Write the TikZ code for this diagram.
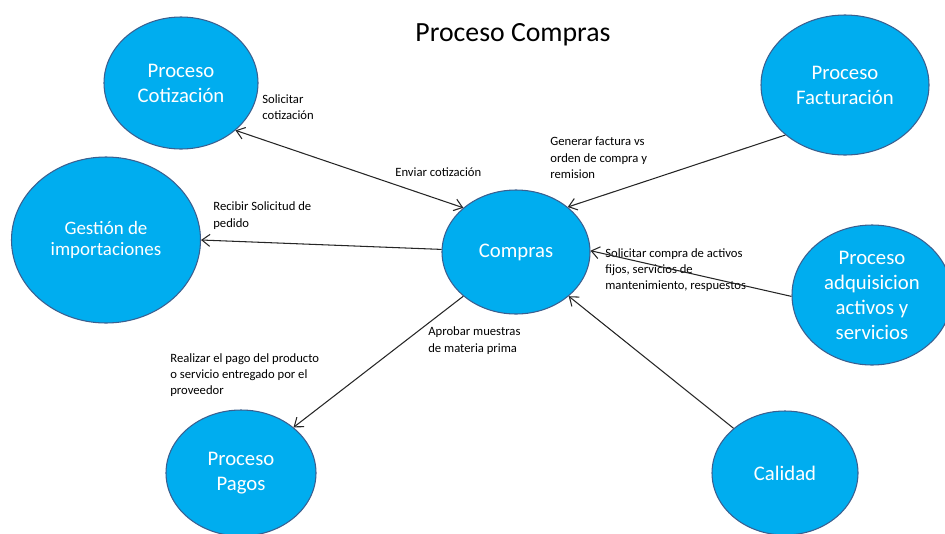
\documentclass[tikz,border=0pt]{standalone}
\usepackage{fontspec}
\setmainfont{Carlito}
\usetikzlibrary{shapes.geometric,arrows.meta}
\definecolor{azulproc}{HTML}{00ADEF}
\definecolor{bordeproc}{HTML}{3B5F8F}
\tikzset{
  proceso/.style={ellipse, draw=bordeproc, line width=0.6pt, fill=azulproc,
    text=white, align=center, inner sep=0pt, font=\fontsize{11.8}{14.2}\selectfont},
  etiqueta/.style={anchor=west, align=left, inner sep=0pt, font=\fontsize{7.2}{9.3}\selectfont},
  flecha/.style={draw=black!85, line width=0.6pt}
}
\begin{document}
\begin{tikzpicture}[x=0.2mm, y=-0.2mm, >={Straight Barb[length=1.6mm,width=2.4mm]}]
  \useasboundingbox (0,0) rectangle (945,533);

  % Titulo
  \node (titulo) at (513,35) {\fontsize{15.8}{19}\selectfont Proceso Compras};

  % Procesos
  \node[proceso, minimum width=29.6mm, minimum height=24.8mm] (compras) at (516,252) {Compras};
  \node[proceso, minimum width=30.8mm, minimum height=26.4mm] (cot) at (181,83) {Proceso\\Cotización};
  \node[proceso, minimum width=33.6mm, minimum height=28mm] (fact) at (845,85) {Proceso\\Facturación};
  \node[proceso, minimum width=37.8mm, minimum height=33.2mm,
    font=\fontsize{10.8}{11.9}\selectfont] (gest) at (106,240) {Gestión de\\importaciones};
  \node[proceso, minimum width=32mm, minimum height=28mm] (adq) at (872,295) {Proceso\\adquisicion\\activos y\\servicios};
  \node[proceso, minimum width=30mm, minimum height=25.2mm] (pagos) at (241,473) {Proceso\\Pagos};
  \node[proceso, minimum width=29.2mm, minimum height=24.8mm] (cal) at (785,473) {Calidad};

  % Etiquetas
  \node[etiqueta] (lsolcot) at (262,107) {Solicitar\\cotización};
  \node[etiqueta] (lenv) at (395,172) {Enviar cotización};
  \node[etiqueta] (lgen) at (550,158) {Generar factura vs\\orden de compra y\\remision};
  \node[etiqueta] (lrec) at (213,215.5) {Recibir Solicitud de\\pedido};
  \node[etiqueta] (lsolact) at (605,270) {Solicitar compra de activos\\fijos, servicios de\\mantenimiento, respuestos};
  \node[etiqueta] (lapr) at (428,340.5) {Aprobar muestras\\de materia prima};
  \node[etiqueta] (lpago) at (170,375) {Realizar el pago del producto\\o servicio entregado por el\\proveedor};

  % Flechas
  \draw[flecha,<->] (cot.-41) -- (compras.140);
  \draw[flecha,->] (fact.220) -- (compras.41);
  \draw[flecha,->] (compras.178) -- (gest.0);
  \draw[flecha,->] (adq.181) -- (compras.1);
  \draw[flecha,->] (compras.220) -- (pagos.41);
  \draw[flecha,->] (cal.139) -- (compras.-40);
\end{tikzpicture}
\end{document}
